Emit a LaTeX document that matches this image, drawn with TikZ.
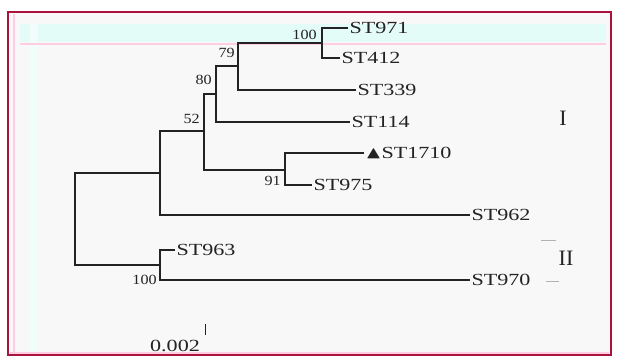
\documentclass[tikz,border=0pt]{standalone}
\usepackage{amssymb}
\usepackage{fontspec}
\setmainfont{Liberation Serif}
\usepackage{tikz}
\usetikzlibrary{positioning, calc}
\definecolor{cFrame}{RGB}{170,20,60}
\definecolor{cPink}{RGB}{255,205,225}
\definecolor{cCyan}{RGB}{228,252,248}
\definecolor{cPaper}{RGB}{248,248,248}
\definecolor{cInk}{RGB}{35,35,35}
\tikzset{
    branch/.style   ={line width=1.6pt, draw=cInk},
    leaf/.style     ={anchor=west, inner sep=1pt, text=cInk, font=\fontsize{17}{19}\selectfont, xscale=1.3, transform shape},
    support/.style  ={anchor=east, inner sep=1pt, text=cInk, font=\fontsize{14}{16}\selectfont, xscale=1.15, transform shape},
    clade/.style    ={inner sep=1pt, text=cInk, font=\fontsize{22}{24}\selectfont},
    bracket/.style  ={line width=0.8pt, draw=gray!60},
}

\begin{document}
\begin{tikzpicture}[x=1pt, y=-1pt]
        \useasboundingbox (0,0) rectangle (617,361);
        % paper and frame
        \fill[white] (0,0) rectangle (617,361);
        \fill[cPaper] (8,12) rectangle (611,355);
        \fill[cCyan] (20,24) rectangle (606,42);
        \fill[cCyan!50] (30,24) rectangle (38,352);
        \draw[cPink, line width=1.2pt] (20,44) -- (606,44);
        \draw[cPink, line width=1.2pt] (14,14) -- (14,352);
        \draw[cFrame, line width=1.6pt] (8,12) rectangle (611,355);
        \draw[cPink, line width=2pt] (10,353) -- (609,353);
        % inner nodes of the tree
        \coordinate (root) at (75,219);
        \coordinate (nUp)  at (160,173);
        \coordinate (nLow) at (160,265);
        \coordinate (n52)  at (204,131);
        \coordinate (n80)  at (216,94);
        \coordinate (n79)  at (238,66);
        \coordinate (nTop) at (322,43);
        \coordinate (n91)  at (285,170);
        % strains
        \node[leaf] (st971)  at (348,28)  {ST971};
        \node[leaf] (st412)  at (340,58)  {ST412};
        \node[leaf] (st339)  at (356,90)  {ST339};
        \node[leaf] (st114)  at (350,122) {ST114};
        \node[leaf] (st1710) at (364,153) {$\blacktriangle$ST1710};
        \node[leaf] (st975)  at (312,185) {ST975};
        \node[leaf] (st962)  at (470,215) {ST962};
        \node[leaf] (st963)  at (175,250) {ST963};
        \node[leaf] (st970)  at (470,280) {ST970};
        % branches
        \draw[branch] (root) |- (nUp);
        \draw[branch] (root) |- (nLow);
        \draw[branch] (nUp) |- (n52);
        \draw[branch] (nUp) |- (st962.west);
        \draw[branch] (nLow) |- (st963.west);
        \draw[branch] (nLow) |- (st970.west);
        \draw[branch] (n52) |- (n80);
        \draw[branch] (n52) |- (n91);
        \draw[branch] (n80) |- (n79);
        \draw[branch] (n80) |- (st114.west);
        \draw[branch] (n79) |- (nTop);
        \draw[branch] (n79) |- (st339.west);
        \draw[branch] (nTop) |- (st971.west);
        \draw[branch] (nTop) |- (st412.west);
        \draw[branch] (n91) |- (st1710.west);
        \draw[branch] (n91) |- (st975.west);
        % bootstrap values
        \node[support] (bTop) at (318,35)  {100};
        \node[support] (b79)  at (236,53)  {79};
        \node[support] (b80)  at (213,80)  {80};
        \node[support] (b52)  at (201,119) {52};
        \node[support] (b91)  at (282,181) {91};
        \node[support] (bLow) at (158,280) {100};
        % clades
        \node[clade] (cladeI)  at (563,118) {I};
        \node[clade] (cladeII) at (566,258) {II};
        \draw[bracket] (541,240) -- (556,240);
        \draw[bracket] (546,281) -- (559,281);
        % scale
        \node[leaf, anchor=center] (scale) at (175,346) {0.002};
        \draw[line width=0.8pt, draw=cInk] (205,324) -- (205,335);
    \end{tikzpicture}
\end{document}
